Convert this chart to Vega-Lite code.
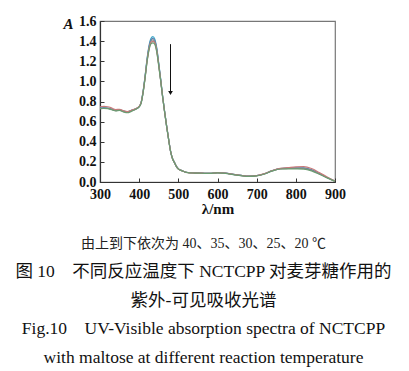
{
  "$schema": "https://vega.github.io/schema/vega-lite/v6.json",
  "autosize": "none",
  "width": 235,
  "height": 161,
  "padding": {"left": 100, "top": 21, "right": 74, "bottom": 189},
  "background": "white",
  "config": {
    "view": {"stroke": "#777777", "strokeWidth": 1.2},
    "font": "Liberation Serif"
  },
  "title": {
    "text": "由上到下依次为 40、35、30、25、20 ℃",
    "subtitle": [
      "图 10　不同反应温度下 NCTCPP 对麦芽糖作用的",
      "紫外-可见吸收光谱",
      "Fig.10\u2003UV-Visible absorption spectra of NCTCPP",
      "with maltose at different reaction temperature"
    ],
    "orient": "bottom",
    "anchor": "middle",
    "frame": "group",
    "dx": -14,
    "offset": 21,
    "font": "Liberation Serif, Noto Sans CJK SC",
    "fontSize": 14,
    "fontWeight": "normal",
    "color": "#222222",
    "subtitleFont": "Liberation Serif, Noto Sans CJK SC",
    "subtitleFontSize": 17.5,
    "subtitleColor": "#111111",
    "subtitleLineHeight": 28.5,
    "subtitlePadding": 12
  },
  "datasets": {
    "spectra": [
      {"nm": 300, "t40": 0.735, "t35": 0.733, "t30": 0.730, "t25": 0.748, "t20": 0.728},
      {"nm": 310, "t40": 0.738, "t35": 0.736, "t30": 0.733, "t25": 0.752, "t20": 0.731},
      {"nm": 320, "t40": 0.735, "t35": 0.733, "t30": 0.731, "t25": 0.748, "t20": 0.729},
      {"nm": 330, "t40": 0.725, "t35": 0.723, "t30": 0.721, "t25": 0.735, "t20": 0.718},
      {"nm": 340, "t40": 0.712, "t35": 0.711, "t30": 0.709, "t25": 0.720, "t20": 0.706},
      {"nm": 350, "t40": 0.718, "t35": 0.716, "t30": 0.714, "t25": 0.722, "t20": 0.712},
      {"nm": 360, "t40": 0.705, "t35": 0.703, "t30": 0.700, "t25": 0.708, "t20": 0.697},
      {"nm": 370, "t40": 0.698, "t35": 0.696, "t30": 0.692, "t25": 0.700, "t20": 0.688},
      {"nm": 380, "t40": 0.712, "t35": 0.710, "t30": 0.707, "t25": 0.713, "t20": 0.702},
      {"nm": 390, "t40": 0.725, "t35": 0.724, "t30": 0.722, "t25": 0.727, "t20": 0.720},
      {"nm": 400, "t40": 0.750, "t35": 0.749, "t30": 0.748, "t25": 0.752, "t20": 0.746},
      {"nm": 405, "t40": 0.790, "t35": 0.788, "t30": 0.786, "t25": 0.790, "t20": 0.784},
      {"nm": 410, "t40": 0.900, "t35": 0.895, "t30": 0.890, "t25": 0.893, "t20": 0.885},
      {"nm": 415, "t40": 1.050, "t35": 1.043, "t30": 1.036, "t25": 1.035, "t20": 1.028},
      {"nm": 420, "t40": 1.220, "t35": 1.210, "t30": 1.200, "t25": 1.196, "t20": 1.188},
      {"nm": 425, "t40": 1.350, "t35": 1.338, "t30": 1.326, "t25": 1.318, "t20": 1.308},
      {"nm": 430, "t40": 1.425, "t35": 1.410, "t30": 1.396, "t25": 1.385, "t20": 1.372},
      {"nm": 435, "t40": 1.445, "t35": 1.428, "t30": 1.412, "t25": 1.398, "t20": 1.383},
      {"nm": 440, "t40": 1.420, "t35": 1.405, "t30": 1.392, "t25": 1.380, "t20": 1.368},
      {"nm": 445, "t40": 1.330, "t35": 1.318, "t30": 1.308, "t25": 1.298, "t20": 1.290},
      {"nm": 450, "t40": 1.180, "t35": 1.172, "t30": 1.165, "t25": 1.158, "t20": 1.152},
      {"nm": 455, "t40": 1.020, "t35": 1.015, "t30": 1.010, "t25": 1.006, "t20": 1.002},
      {"nm": 460, "t40": 0.850, "t35": 0.847, "t30": 0.845, "t25": 0.842, "t20": 0.840},
      {"nm": 465, "t40": 0.700, "t35": 0.698, "t30": 0.697, "t25": 0.695, "t20": 0.694},
      {"nm": 470, "t40": 0.560, "t35": 0.559, "t30": 0.558, "t25": 0.557, "t20": 0.556},
      {"nm": 475, "t40": 0.430, "t35": 0.430, "t30": 0.429, "t25": 0.428, "t20": 0.428},
      {"nm": 480, "t40": 0.310, "t35": 0.310, "t30": 0.309, "t25": 0.309, "t20": 0.308},
      {"nm": 485, "t40": 0.235, "t35": 0.235, "t30": 0.234, "t25": 0.234, "t20": 0.233},
      {"nm": 490, "t40": 0.195, "t35": 0.195, "t30": 0.194, "t25": 0.194, "t20": 0.193},
      {"nm": 495, "t40": 0.155, "t35": 0.155, "t30": 0.155, "t25": 0.154, "t20": 0.154},
      {"nm": 500, "t40": 0.130, "t35": 0.130, "t30": 0.130, "t25": 0.129, "t20": 0.129},
      {"nm": 510, "t40": 0.112, "t35": 0.112, "t30": 0.111, "t25": 0.111, "t20": 0.111},
      {"nm": 520, "t40": 0.097, "t35": 0.097, "t30": 0.097, "t25": 0.096, "t20": 0.096},
      {"nm": 540, "t40": 0.090, "t35": 0.090, "t30": 0.090, "t25": 0.089, "t20": 0.089},
      {"nm": 560, "t40": 0.088, "t35": 0.088, "t30": 0.088, "t25": 0.088, "t20": 0.087},
      {"nm": 580, "t40": 0.086, "t35": 0.086, "t30": 0.086, "t25": 0.086, "t20": 0.085},
      {"nm": 600, "t40": 0.092, "t35": 0.092, "t30": 0.091, "t25": 0.092, "t20": 0.090},
      {"nm": 620, "t40": 0.088, "t35": 0.088, "t30": 0.087, "t25": 0.088, "t20": 0.086},
      {"nm": 640, "t40": 0.076, "t35": 0.076, "t30": 0.075, "t25": 0.076, "t20": 0.074},
      {"nm": 660, "t40": 0.065, "t35": 0.065, "t30": 0.064, "t25": 0.065, "t20": 0.063},
      {"nm": 680, "t40": 0.058, "t35": 0.058, "t30": 0.057, "t25": 0.058, "t20": 0.056},
      {"nm": 700, "t40": 0.063, "t35": 0.063, "t30": 0.062, "t25": 0.063, "t20": 0.061},
      {"nm": 720, "t40": 0.082, "t35": 0.082, "t30": 0.081, "t25": 0.083, "t20": 0.080},
      {"nm": 740, "t40": 0.113, "t35": 0.112, "t30": 0.111, "t25": 0.114, "t20": 0.110},
      {"nm": 760, "t40": 0.134, "t35": 0.133, "t30": 0.131, "t25": 0.136, "t20": 0.129},
      {"nm": 780, "t40": 0.138, "t35": 0.137, "t30": 0.134, "t25": 0.143, "t20": 0.131},
      {"nm": 800, "t40": 0.140, "t35": 0.139, "t30": 0.135, "t25": 0.150, "t20": 0.130},
      {"nm": 820, "t40": 0.140, "t35": 0.139, "t30": 0.134, "t25": 0.152, "t20": 0.128},
      {"nm": 840, "t40": 0.122, "t35": 0.121, "t30": 0.117, "t25": 0.134, "t20": 0.111},
      {"nm": 860, "t40": 0.085, "t35": 0.084, "t30": 0.081, "t25": 0.094, "t20": 0.077},
      {"nm": 880, "t40": 0.045, "t35": 0.045, "t30": 0.043, "t25": 0.050, "t20": 0.041},
      {"nm": 900, "t40": 0.008, "t35": 0.008, "t30": 0.007, "t25": 0.009, "t20": 0.006}
    ],
    "arrow": [
      {"nm": 480, "top": 1.37, "bottom": 0.885}
    ]
  },
  "layer": [
    {
      "data": {"name": "spectra"},
      "transform": [
        {"fold": ["t40", "t35", "t30", "t25", "t20"], "as": ["series", "A"]}
      ],
      "mark": {"type": "line", "strokeWidth": 1.2, "interpolate": "monotone"},
      "encoding": {
        "x": {
          "field": "nm",
          "type": "quantitative",
          "scale": {"domain": [300, 900], "nice": false},
          "axis": {
            "values": [300, 400, 500, 600, 700, 800, 900],
            "tickCount": 12,
            "grid": false,
            "domainColor": "#333333",
            "domainWidth": 1.2,
            "tickColor": "#333333",
            "tickSize": -4,
            "labelFont": "Liberation Serif",
            "labelFontSize": 14,
            "labelFontWeight": "bold",
            "labelColor": "#111111",
            "labelOverlap": false,
            "labelFlush": false,
            "labelPadding": 9,
            "labelBaseline": "top",
            "title": "λ/nm",
            "titleFont": "Liberation Serif",
            "titleColor": "#111111",
            "titleFontSize": 15,
            "titleFontWeight": "bold",
            "titlePadding": 0
          }
        },
        "y": {
          "field": "A",
          "type": "quantitative",
          "scale": {"domain": [0, 1.6], "nice": false},
          "axis": {
            "values": [0, 0.2, 0.4, 0.6, 0.8, 1.0, 1.2, 1.4, 1.6],
            "tickCount": 16,
            "format": ".1f",
            "grid": false,
            "domainColor": "#333333",
            "domainWidth": 1.2,
            "tickColor": "#333333",
            "tickSize": -4,
            "labelFont": "Liberation Serif",
            "labelFontSize": 14,
            "labelFontWeight": "bold",
            "labelColor": "#111111",
            "labelOverlap": false,
            "labelFlush": false,
            "labelPadding": 8,
            "title": "A",
            "titleFont": "Liberation Serif",
            "titleColor": "#111111",
            "titleAngle": 0,
            "titleFontStyle": "italic",
            "titleFontWeight": "bold",
            "titleFontSize": 15,
            "titleAlign": "center",
            "titleBaseline": "middle",
            "titleX": -32,
            "titleY": 2
          }
        },
        "color": {
          "field": "series",
          "type": "nominal",
          "scale": {
            "domain": ["t20", "t25", "t30", "t35", "t40"],
            "range": ["#6c9c72", "#c97a7a", "#8a8a8a", "#5c7fae", "#3fa6c8"]
          },
          "legend": null
        }
      }
    },
    {
      "data": {"name": "arrow"},
      "mark": {"type": "rule", "color": "#111111", "strokeWidth": 1},
      "encoding": {
        "x": {"field": "nm", "type": "quantitative"},
        "y": {"field": "top", "type": "quantitative"},
        "y2": {"field": "bottom"}
      }
    },
    {
      "data": {"name": "arrow"},
      "mark": {"type": "point", "shape": "triangle-down", "filled": true, "color": "#111111", "size": 22, "opacity": 1},
      "encoding": {
        "x": {"field": "nm", "type": "quantitative"},
        "y": {"field": "bottom", "type": "quantitative"}
      }
    }
  ]
}
